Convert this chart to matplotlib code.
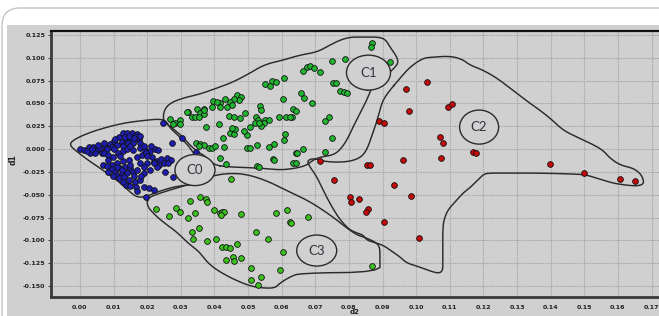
import numpy as np
import matplotlib
matplotlib.use("Agg")
import matplotlib.pyplot as plt
from matplotlib.patches import Ellipse, Rectangle, FancyBboxPatch
from matplotlib.transforms import IdentityTransform

# ---------------- data ----------------
blue_x = [0.000, 0.0013, 0.0028, 0.0040, 0.0050, 0.0060, 0.0030, 0.0045, 0.0065, 0.0055, 0.0075, 0.0020,
          0.0070, 0.0089, 0.0101, 0.0117, 0.0129, 0.0141, 0.0154, 0.0169, 0.0124, 0.0139, 0.0151, 0.0164,
          0.0177, 0.0111, 0.0127, 0.0144, 0.0159, 0.0179, 0.0094, 0.0079, 0.0134, 0.0147, 0.0164, 0.0179,
          0.0070, 0.0084, 0.0099, 0.0114, 0.0129, 0.0141, 0.0157, 0.0179, 0.0194, 0.0209, 0.0224, 0.0231,
          0.0084, 0.0109, 0.0127, 0.0147, 0.0169, 0.0184, 0.0197, 0.0214, 0.0229, 0.0240, 0.0258, 0.0270,
          0.0250, 0.0179, 0.0199, 0.0219, 0.0068, 0.0094, 0.0236, 0.0263, 0.0094, 0.0104, 0.0119, 0.0134,
          0.0149, 0.0109, 0.0124, 0.0141, 0.0157, 0.0169, 0.0189, 0.0207, 0.0117, 0.0131, 0.0147, 0.0164,
          0.0179, 0.0137, 0.0149, 0.0167, 0.0189, 0.0204, 0.0219, 0.0169, 0.0197, 0.0253, 0.0278, 0.0099,
          0.0129, 0.0084, 0.0248, 0.0273, 0.0303, 0.0346,
          0.0105, 0.0160, 0.0190, 0.0120, 0.0200, 0.0150, 0.0080, 0.0190, 0.0230, 0.0110, 0.0125, 0.0180,
          0.0160, 0.0220, 0.0035, 0.0100, 0.0150, 0.0210]
blue_y = [0.000, -0.0011, 0.0026, 0.0026, -0.0011, 0.0007, -0.0040, -0.0048, -0.0048, 0.0044, 0.0026, -0.0018,
          0.0069, 0.0055, 0.0091, 0.0135, 0.0172, 0.0179, 0.0172, 0.0164, 0.0080, 0.0091, 0.0099, 0.0106,
          0.0106, 0.0044, 0.0033, 0.0062, 0.0069, 0.0069, 0.0026, -0.0004, 0.0135, 0.0143, 0.0143, 0.0143,
          -0.0040, -0.0066, -0.0091, -0.0048, -0.0018, -0.0004, -0.0011, 0.0007, -0.0011, -0.0018, -0.0004, -0.0011,
          -0.0121, -0.0157, -0.0128, -0.0121, -0.0091, -0.0066, -0.0048, -0.0091, -0.0128, -0.0113, -0.0102, -0.0121,
          -0.0150, -0.0157, -0.0150, -0.0139, -0.0175, -0.0175, -0.0175, -0.0157, -0.0223, -0.0249, -0.0212, -0.0194,
          -0.0212, -0.0285, -0.0274, -0.0260, -0.0249, -0.0230, -0.0267, -0.0230, -0.0322, -0.0311, -0.0340, -0.0358,
          -0.0340, -0.0395, -0.0406, -0.0420, -0.0420, -0.0431, -0.0450, -0.0457, -0.0523, -0.0249, -0.0311, -0.0296,
          -0.0358, -0.0249, 0.0282, 0.0069, 0.0117, -0.0036,
          0.0110, 0.0120, 0.0030, -0.0080, -0.0080, -0.0170, -0.0190, -0.0200, -0.0200, -0.0200, -0.0230, -0.0300,
          -0.0290, -0.0150, 0.0000, 0.0000, 0.0030, 0.0030]

c1_x = [0.0867, 0.0866, 0.0922, 0.0750, 0.0787, 0.0853, 0.0674, 0.0684, 0.0696, 0.0663, 0.0713, 0.0606,
        0.0571, 0.0584, 0.0551, 0.0564, 0.0753, 0.0762, 0.0773, 0.0785, 0.0795, 0.0658, 0.0666, 0.0603,
        0.0691, 0.0467, 0.0479, 0.0472, 0.0457, 0.0447, 0.0432, 0.0417, 0.0397, 0.0407, 0.0452, 0.0437,
        0.0417, 0.0535, 0.0392, 0.0348, 0.0370, 0.0358, 0.0368, 0.0320, 0.0333, 0.0343, 0.0353, 0.0634,
        0.0643, 0.0537, 0.0490, 0.0477, 0.0444, 0.0457, 0.0522, 0.0530, 0.0551, 0.0561, 0.0546, 0.0539,
        0.0520, 0.0532, 0.0591, 0.0614, 0.0631, 0.0624, 0.0740, 0.0730, 0.0376, 0.0414, 0.0505, 0.0268,
        0.0283, 0.0296, 0.0298, 0.0278, 0.0445, 0.0457, 0.0462, 0.0452, 0.0425, 0.0497, 0.0487, 0.0611,
        0.0606, 0.0750, 0.0578, 0.0561, 0.0525, 0.0497, 0.0507, 0.0345, 0.0358, 0.0368, 0.0383, 0.0393,
        0.0353, 0.0403, 0.0427, 0.0664, 0.0641, 0.0646, 0.0730, 0.0574, 0.0417, 0.0435, 0.0525, 0.0532,
        0.0634, 0.0641, 0.0576, 0.0318, 0.0368]
c1_y = [0.1159, 0.1115, 0.0958, 0.0969, 0.0987, 0.0676, 0.0903, 0.0910, 0.0892, 0.0859, 0.0841, 0.0775,
        0.0746, 0.0738, 0.0709, 0.0694, 0.0720, 0.0727, 0.0636, 0.0629, 0.0618, 0.0618, 0.0563, 0.0545,
        0.0508, 0.0592, 0.0567, 0.0537, 0.0545, 0.0512, 0.0548, 0.0508, 0.0526, 0.0519, 0.0482, 0.0457,
        0.0464, 0.0471, 0.0464, 0.0439, 0.0439, 0.0398, 0.0384, 0.0409, 0.0355, 0.0355, 0.0347, 0.0442,
        0.0420, 0.0428, 0.0391, 0.0344, 0.0362, 0.0347, 0.0355, 0.0318, 0.0318, 0.0318, 0.0281, 0.0252,
        0.0281, 0.0281, 0.0355, 0.0355, 0.0347, 0.0347, 0.0355, 0.0307, 0.0245, 0.0270, 0.0238, 0.0325,
        0.0289, 0.0318, 0.0274, 0.0274, 0.0172, 0.0164, 0.0216, 0.0227, 0.0124, 0.0154, 0.0201, 0.0161,
        0.0099, 0.0117, 0.0055, 0.0026, 0.0044, 0.0015, 0.0007, 0.0062, 0.0055, 0.0044, 0.0007, 0.0007,
        0.0033, 0.0037, 0.0026, -0.0004, -0.0040, -0.0048, -0.0029, -0.0113, -0.0102, -0.0164, -0.0183, -0.0201,
        -0.0150, -0.0157, -0.0121, 0.0409, 0.0428]

c3_x = [0.0227, 0.0265, 0.0285, 0.0298, 0.0321, 0.0328, 0.0341, 0.0333, 0.0355, 0.0336, 0.0358, 0.0375,
        0.0378, 0.0400, 0.0415, 0.0422, 0.0429, 0.0419, 0.0479, 0.0450, 0.0584, 0.0615, 0.0678, 0.0624,
        0.0628, 0.0524, 0.0560, 0.0378, 0.0405, 0.0422, 0.0435, 0.0447, 0.0467, 0.0604, 0.0435, 0.0454,
        0.0457, 0.0479, 0.0510, 0.0596, 0.0537, 0.0509, 0.0530, 0.0867]
c3_y = [-0.0658, -0.0731, -0.0643, -0.0687, -0.0760, -0.0567, -0.0705, -0.0906, -0.0865, -0.0983, -0.0530, -0.0550,
        -0.0578, -0.0669, -0.0698, -0.0687, -0.0687, -0.0724, -0.0713, -0.0333, -0.0698, -0.0669, -0.0742, -0.0804,
        -0.0808, -0.0906, -0.0980, -0.1005, -0.0980, -0.1071, -0.1078, -0.1089, -0.1042, -0.1126, -0.1217, -0.1188,
        -0.1228, -0.1191, -0.1298, -0.1327, -0.1400, -0.1436, -0.1491, -0.1276]

red_x = [0.0715, 0.0889, 0.0905, 0.0979, 0.1093, 0.1107, 0.1070, 0.1079, 0.1170, 0.1178, 0.1074, 0.0962,
         0.0854, 0.0862, 0.0754, 0.0935, 0.0984, 0.0802, 0.0806, 0.0831, 0.0856, 0.0852, 0.0905, 0.1008,
         0.1033, 0.0969, 0.1397, 0.1500, 0.1607, 0.1650]
red_y = [-0.0132, 0.0307, 0.0289, 0.0417, 0.0457, 0.0493, 0.0135, 0.0069, -0.0037, -0.0040, -0.0102, -0.0121,
         -0.0175, -0.0175, -0.0340, -0.0395, -0.0519, -0.0530, -0.0585, -0.0552, -0.0658, -0.0687, -0.0800, -0.0979,
         0.0731, 0.0658, -0.0164, -0.0263, -0.0329, -0.0348]

x_ticks = [round(0.01 * i, 2) for i in range(18)]
y_ticks = [-0.150, -0.125, -0.100, -0.075, -0.050, -0.025, 0.000, 0.025, 0.050, 0.075, 0.100, 0.125]

# hand-drawn cluster outlines (data units)
c0_outline = [(0.0342, -0.0066), (0.0321, 0.0044), (0.0291, 0.0153), (0.0268, 0.0230), (0.0256, 0.0307),
              (0.0238, 0.0329), (0.0199, 0.0318), (0.0128, 0.0285), (0.0059, 0.0219), (0.0009, 0.0153),
              (-0.0024, 0.0088), (-0.0030, 0.0044), (-0.0015, -0.0011), (0.0024, -0.0121), (0.0059, -0.0208),
              (0.0110, -0.0340), (0.0149, -0.0471), (0.0169, -0.0526), (0.0193, -0.0526), (0.0229, -0.0471),
              (0.0277, -0.0416), (0.0318, -0.0394), (0.0342, -0.0394)]
c1_outline = [(0.0398, -0.0175), (0.0446, -0.0197), (0.0535, -0.0208), (0.0595, -0.0230), (0.0645, -0.0208),
              (0.0675, -0.0175), (0.0693, -0.0121), (0.0714, -0.0088), (0.0752, -0.0066), (0.0773, -0.0011),
              (0.0794, 0.0099), (0.0812, 0.0241), (0.0833, 0.0394), (0.0853, 0.0537), (0.0871, 0.0701),
              (0.0901, 0.0789), (0.0922, 0.0844), (0.0937, 0.0898), (0.0946, 0.0942), (0.0943, 0.1008),
              (0.0922, 0.1118), (0.0910, 0.1194), (0.0892, 0.1227), (0.0842, 0.1227), (0.0803, 0.1227),
              (0.0773, 0.1194), (0.0743, 0.1139), (0.0705, 0.1063), (0.0654, 0.1030), (0.0604, 0.0975),
              (0.0565, 0.0942), (0.0535, 0.0898), (0.0506, 0.0833), (0.0455, 0.0734), (0.0407, 0.0668),
              (0.0357, 0.0603), (0.0306, 0.0559), (0.0268, 0.0504), (0.0250, 0.0427), (0.0247, 0.0318),
              (0.0262, 0.0263), (0.0282, 0.0208), (0.0306, 0.0131), (0.0327, 0.0044), (0.0351, -0.0033),
              (0.0372, -0.0077)]
c2_outline = [(0.0922, 0.0646), (0.0952, 0.0778), (0.0981, 0.0898), (0.1020, 0.0997), (0.1050, 0.1008),
              (0.1100, 0.1019), (0.1136, 0.0986), (0.1160, 0.0920), (0.1198, 0.0866), (0.1240, 0.0778),
              (0.1279, 0.0668), (0.1317, 0.0559), (0.1359, 0.0449), (0.1398, 0.0340), (0.1436, 0.0208),
              (0.1478, 0.0131), (0.1517, 0.0066), (0.1555, -0.0011), (0.1576, -0.0099), (0.1606, -0.0175),
              (0.1644, -0.0208), (0.1665, -0.0263), (0.1674, -0.0318), (0.1677, -0.0383), (0.1656, -0.0405),
              (0.1621, -0.0394), (0.1585, -0.0373), (0.1546, -0.0329), (0.1508, -0.0285), (0.1478, -0.0274),
              (0.1368, -0.0263), (0.1270, -0.0263), (0.1210, -0.0263), (0.1198, -0.0285), (0.1189, -0.0318),
              (0.1169, -0.0394), (0.1139, -0.0482), (0.1115, -0.0581), (0.1094, -0.0668), (0.1082, -0.0778),
              (0.1079, -0.0887), (0.1079, -0.1030), (0.1079, -0.1216), (0.1079, -0.1326), (0.1070, -0.1359),
              (0.1050, -0.1348), (0.1002, -0.1282), (0.0972, -0.1249), (0.0952, -0.1183), (0.0931, -0.1129),
              (0.0901, -0.1052), (0.0871, -0.1019), (0.0853, -0.0997), (0.0842, -0.0942), (0.0824, -0.0920),
              (0.0803, -0.0887), (0.0782, -0.0811), (0.0764, -0.0723), (0.0743, -0.0592), (0.0723, -0.0449),
              (0.0705, -0.0307), (0.0684, -0.0197), (0.0675, -0.0131), (0.0693, -0.0099), (0.0734, -0.0142),
              (0.0794, -0.0142), (0.0833, -0.0099), (0.0853, -0.0011), (0.0871, 0.0175), (0.0883, 0.0307),
              (0.0892, 0.0427), (0.0898, 0.0504), (0.0907, 0.0570)]
c3_outline = [(0.0202, -0.0537), (0.0199, -0.0614), (0.0214, -0.0690), (0.0247, -0.0800), (0.0288, -0.0909),
              (0.0318, -0.1019), (0.0348, -0.1107), (0.0357, -0.1139), (0.0378, -0.1238), (0.0407, -0.1326),
              (0.0455, -0.1424), (0.0506, -0.1501), (0.0544, -0.1523), (0.0580, -0.1523), (0.0595, -0.1468),
              (0.0624, -0.1402), (0.0654, -0.1359), (0.0892, -0.1348), (0.0892, -0.1216), (0.0892, -0.1085),
              (0.0883, -0.1030), (0.0853, -0.0975), (0.0824, -0.0942), (0.0794, -0.0866), (0.0764, -0.0778),
              (0.0723, -0.0668), (0.0675, -0.0559), (0.0624, -0.0471), (0.0565, -0.0362), (0.0506, -0.0285),
              (0.0455, -0.0263), (0.0401, -0.0285), (0.0357, -0.0340), (0.0318, -0.0394), (0.0277, -0.0438),
              (0.0229, -0.0493)]

labels = ["C0", "C1", "C2", "C3"]
label_cx = [0.0342, 0.0858, 0.1187, 0.0704]
label_cy = [-0.0230, 0.0838, 0.0241, -0.1112]
label_w = [0.0119, 0.0131, 0.0116, 0.0119]
label_h = [0.0340, 0.0383, 0.0373, 0.0340]


def chaikin(pts, closed, n=2):
    p = np.asarray(pts, float)
    for _ in range(n):
        if closed:
            q = np.roll(p, -1, axis=0)
            a = 0.75 * p + 0.25 * q
            b = 0.25 * p + 0.75 * q
            p = np.empty((2 * len(a), 2))
            p[0::2] = a
            p[1::2] = b
        else:
            a = 0.75 * p[:-1] + 0.25 * p[1:]
            b = 0.25 * p[:-1] + 0.75 * p[1:]
            mid = np.empty((2 * len(a), 2))
            mid[0::2] = a
            mid[1::2] = b
            p = np.vstack([p[:1], mid, p[-1:]])
    if closed:
        p = np.vstack([p, p[:1]])
    return p


W, H = 659, 316
BG = "#d0d0d0"
fig = plt.figure(figsize=(W / 100, H / 100), dpi=100, facecolor="white")

# gray panel and rounded card border
fig.add_artist(Rectangle((7, 0), W, 291, transform=IdentityTransform(),
                         facecolor=BG, edgecolor="none", zorder=-10))
fig.add_artist(FancyBboxPatch((2, -30), W + 40, 338, boxstyle="round,pad=0,rounding_size=18",
                              transform=IdentityTransform(), fill=False,
                              edgecolor="#c4c4c4", linewidth=1.0, zorder=-9))

ax = fig.add_axes([51 / W, 19 / H, 1 - 51 / W, 266 / H])
ax.set_facecolor(BG)
ax.set_xlim(-0.00862, 0.1722)
ax.set_ylim(-0.1621, 0.1294)

ax.set_xticks(x_ticks)
ax.set_xticklabels([f"{v:.2f}" for v in x_ticks])
ax.set_yticks(y_ticks)
ax.set_yticklabels([f"{v:.3f}" for v in y_ticks])
ax.tick_params(axis="both", labelsize=4.6, colors="#222222")
ax.tick_params(axis="y", length=2, width=0.6, pad=2)
ax.tick_params(axis="x", length=0, pad=5.5)
for lab in ax.get_xticklabels() + ax.get_yticklabels():
    lab.set_fontweight("bold")
ax.grid(True, color="#a4a4a4", linestyle=(0, (1.2, 1.0)), linewidth=0.8)
ax.set_axisbelow(True)

ax.spines["right"].set_visible(False)
ax.spines["top"].set_color("#111111")
ax.spines["top"].set_linewidth(1.6)
ax.spines["left"].set_color("#3a3a3a")
ax.spines["left"].set_linewidth(2.0)
ax.spines["bottom"].set_color("#3a3a3a")
ax.spines["bottom"].set_linewidth(2.0)

# outlines
line_kw = dict(color="#2b2b2b", linewidth=1.05, zorder=2)
for pts, closed in [(c0_outline, False), (c1_outline, True), (c2_outline, True), (c3_outline, True)]:
    sm = chaikin(pts, closed)
    ax.plot(sm[:, 0], sm[:, 1], **line_kw)

# points
sc_kw = dict(s=17, edgecolors="#111111", linewidths=0.6, zorder=3)
ax.scatter(blue_x, blue_y, c="#1d1db0", **sc_kw)
ax.scatter(c1_x, c1_y, c="#22b530", **sc_kw)
ax.scatter(c3_x, c3_y, c="#3cc21e", **sc_kw)
ax.scatter(red_x, red_y, c="#c50a0a", **sc_kw)

# label ellipses
for lab, cx, cy, w, h in zip(labels, label_cx, label_cy, label_w, label_h):
    ax.add_patch(Ellipse((cx, cy), w, h, facecolor=BG, edgecolor="#2b2b2b", linewidth=1.0, zorder=4))
    ax.text(cx, cy, lab, ha="center", va="center", fontsize=9.5, color="#333340",
            family=["Lato", "DejaVu Sans"], zorder=5)

fig.text(13.5 / W, 1 - 160 / H, "d1", rotation=90, ha="center", va="center",
         fontsize=5.5, fontweight="bold", color="#222222")
fig.text(355 / W, 1 - 311.5 / H, "d2", ha="center", va="center",
         fontsize=5.0, fontweight="bold", color="#222222")

fig.savefig("out.png", dpi=100, facecolor="white")
